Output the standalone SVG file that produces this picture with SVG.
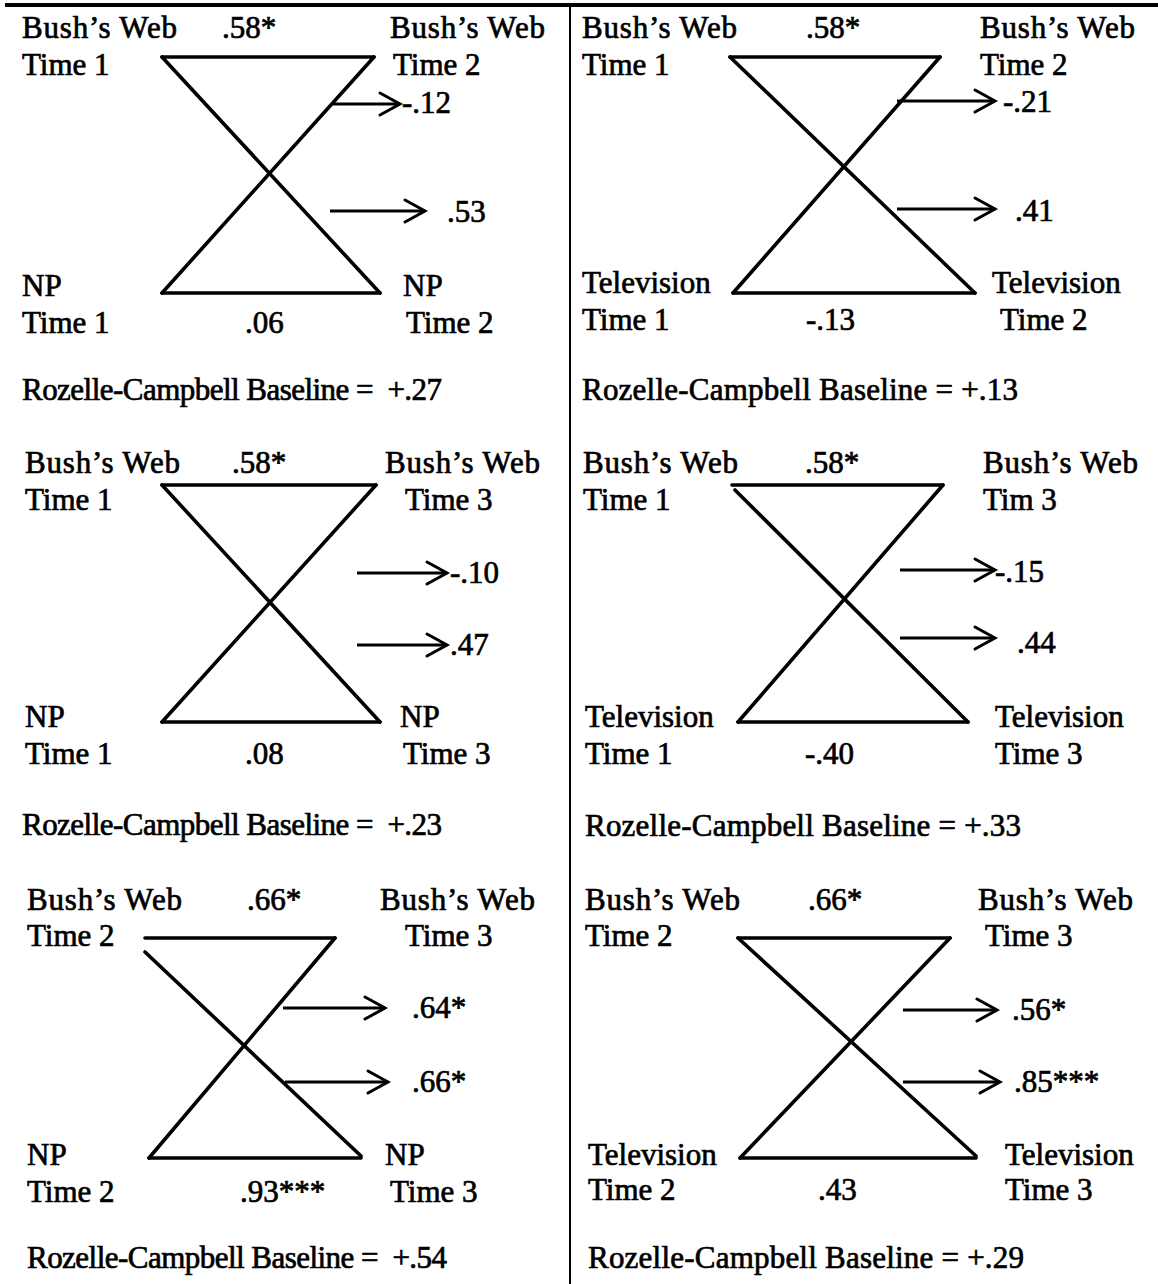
<svg xmlns="http://www.w3.org/2000/svg" width="1158" height="1284" viewBox="0 0 1158 1284">
<defs>
<marker id="ah" markerUnits="userSpaceOnUse" markerWidth="26" markerHeight="26" refX="21" refY="12" orient="auto" overflow="visible">
<path d="M1,1 L21,12 L1,23" fill="none" stroke="#000" stroke-width="3" stroke-linecap="round" stroke-linejoin="miter"/>
</marker>
</defs>
<style>
text{font-family:"Liberation Serif","Times New Roman",serif;font-size:31px;fill:#000;stroke:#000;stroke-width:0.7}
.ln{stroke:#000;stroke-width:3.6;fill:none;stroke-linecap:round}
.ar{stroke:#000;stroke-width:3;fill:none;marker-end:url(#ah)}
.frame{stroke:#000;fill:none}
</style>
<rect width="1158" height="1284" fill="#fff"/>
<g id="frame">
<line class="frame" x1="5" y1="5" x2="1158" y2="5" stroke-width="4"/>
<line class="frame" x1="570" y1="5" x2="570" y2="1284" stroke-width="2"/>
</g>

<g id="panel-tl">
<g id="tl-bw1"><text x="22" y="38" textLength="155">Bush’s Web</text><text x="22" y="75">Time 1</text></g>
<g id="tl-bw2"><text x="390" y="38" textLength="155">Bush’s Web</text><text x="393" y="75">Time 2</text></g>
<g id="tl-np1"><text x="22" y="296">NP</text><text x="22" y="333">Time 1</text></g>
<g id="tl-np2"><text x="403" y="296">NP</text><text x="406" y="333">Time 2</text></g>
<g id="tl-connectors">
<line class="ln" x1="162" y1="57" x2="374" y2="57"/>
<line class="ln" x1="162" y1="57" x2="380" y2="293"/>
<line class="ln" x1="374" y1="57" x2="162" y2="293"/>
<line class="ln" x1="162" y1="293" x2="380" y2="293"/>
<line class="ar" x1="333" y1="104" x2="400" y2="104"/>
<line class="ar" x1="330" y1="211" x2="425" y2="211"/>
</g>
<text x="222" y="38">.58*</text>
<text x="402" y="113">-.12</text>
<text x="447" y="222">.53</text>
<text x="245" y="333">.06</text>
<text x="22" y="400" xml:space="preserve" textLength="420">Rozelle-Campbell Baseline =  +.27</text>
</g>

<g id="panel-tr">
<g id="tr-bw1"><text x="582" y="38" textLength="155">Bush’s Web</text><text x="582" y="75">Time 1</text></g>
<g id="tr-bw2"><text x="980" y="38" textLength="155">Bush’s Web</text><text x="980" y="75">Time 2</text></g>
<g id="tr-tv1"><text x="582" y="293">Television</text><text x="582" y="330">Time 1</text></g>
<g id="tr-tv2"><text x="992" y="293">Television</text><text x="1000" y="330">Time 2</text></g>
<g id="tr-connectors">
<line class="ln" x1="730" y1="57" x2="940" y2="57"/>
<line class="ln" x1="730" y1="57" x2="975" y2="293"/>
<line class="ln" x1="940" y1="57" x2="733" y2="293"/>
<line class="ln" x1="733" y1="293" x2="975" y2="293"/>
<line class="ar" x1="897" y1="101" x2="995" y2="101"/>
<line class="ar" x1="897" y1="209" x2="995" y2="209"/>
</g>
<text x="806" y="38">.58*</text>
<text x="1003" y="112">-.21</text>
<text x="1015" y="221">.41</text>
<text x="806" y="330">-.13</text>
<text x="582" y="400" textLength="436">Rozelle-Campbell Baseline = +.13</text>
</g>

<g id="panel-ml">
<g id="ml-bw1"><text x="25" y="473" textLength="155">Bush’s Web</text><text x="25" y="510">Time 1</text></g>
<g id="ml-bw3"><text x="385" y="473" textLength="155">Bush’s Web</text><text x="405" y="510">Time 3</text></g>
<g id="ml-np1"><text x="25" y="727">NP</text><text x="25" y="764">Time 1</text></g>
<g id="ml-np3"><text x="400" y="727">NP</text><text x="403" y="764">Time 3</text></g>
<g id="ml-connectors">
<line class="ln" x1="162" y1="485" x2="376" y2="485"/>
<line class="ln" x1="162" y1="485" x2="380" y2="722"/>
<line class="ln" x1="376" y1="485" x2="162" y2="722"/>
<line class="ln" x1="162" y1="722" x2="380" y2="722"/>
<line class="ar" x1="357" y1="573" x2="447" y2="573"/>
<line class="ar" x1="357" y1="645" x2="447" y2="645"/>
</g>
<text x="232" y="473">.58*</text>
<text x="450" y="583">-.10</text>
<text x="450" y="655">.47</text>
<text x="245" y="764">.08</text>
<text x="22" y="835" xml:space="preserve" textLength="420">Rozelle-Campbell Baseline =  +.23</text>
</g>

<g id="panel-mr">
<g id="mr-bw1"><text x="583" y="473" textLength="155">Bush’s Web</text><text x="583" y="510">Time 1</text></g>
<g id="mr-bw3"><text x="983" y="473" textLength="155">Bush’s Web</text><text x="983" y="510">Tim 3</text></g>
<g id="mr-tv1"><text x="585" y="727">Television</text><text x="585" y="764">Time 1</text></g>
<g id="mr-tv3"><text x="995" y="727">Television</text><text x="995" y="764">Time 3</text></g>
<g id="mr-connectors">
<line class="ln" x1="732" y1="485" x2="943" y2="485"/>
<line class="ln" x1="735" y1="490" x2="968" y2="722"/>
<line class="ln" x1="943" y1="485" x2="738" y2="722"/>
<line class="ln" x1="738" y1="722" x2="968" y2="722"/>
<line class="ar" x1="900" y1="570" x2="995" y2="570"/>
<line class="ar" x1="900" y1="638" x2="995" y2="638"/>
</g>
<text x="805" y="473">.58*</text>
<text x="995" y="582">-.15</text>
<text x="1017" y="653">.44</text>
<text x="805" y="764">-.40</text>
<text x="585" y="836" textLength="436">Rozelle-Campbell Baseline = +.33</text>
</g>

<g id="panel-bl">
<g id="bl-bw2"><text x="27" y="910" textLength="155">Bush’s Web</text><text x="27" y="946">Time 2</text></g>
<g id="bl-bw3"><text x="380" y="910" textLength="155">Bush’s Web</text><text x="405" y="946">Time 3</text></g>
<g id="bl-np2"><text x="27" y="1165">NP</text><text x="27" y="1202">Time 2</text></g>
<g id="bl-np3"><text x="385" y="1165">NP</text><text x="390" y="1202">Time 3</text></g>
<g id="bl-connectors">
<line class="ln" x1="145" y1="938" x2="335" y2="938"/>
<line class="ln" x1="145" y1="952" x2="361" y2="1156"/>
<line class="ln" x1="335" y1="938" x2="149" y2="1158"/>
<line class="ln" x1="149" y1="1158" x2="361" y2="1158"/>
<line class="ar" x1="283" y1="1008" x2="385" y2="1008"/>
<line class="ar" x1="285" y1="1082" x2="388" y2="1082"/>
</g>
<text x="247" y="910">.66*</text>
<text x="412" y="1018">.64*</text>
<text x="412" y="1092">.66*</text>
<text x="240" y="1202">.93***</text>
<text x="27" y="1268" xml:space="preserve" textLength="420">Rozelle-Campbell Baseline =  +.54</text>
</g>

<g id="panel-br">
<g id="br-bw2"><text x="585" y="910" textLength="155">Bush’s Web</text><text x="585" y="946">Time 2</text></g>
<g id="br-bw3"><text x="978" y="910" textLength="155">Bush’s Web</text><text x="985" y="946">Time 3</text></g>
<g id="br-tv2"><text x="588" y="1165">Television</text><text x="588" y="1200">Time 2</text></g>
<g id="br-tv3"><text x="1005" y="1165">Television</text><text x="1005" y="1200">Time 3</text></g>
<g id="br-connectors">
<line class="ln" x1="738" y1="938" x2="950" y2="938"/>
<line class="ln" x1="738" y1="938" x2="976" y2="1156"/>
<line class="ln" x1="950" y1="938" x2="740" y2="1158"/>
<line class="ln" x1="740" y1="1158" x2="976" y2="1158"/>
<line class="ar" x1="903" y1="1010" x2="997" y2="1010"/>
<line class="ar" x1="903" y1="1082" x2="1000" y2="1082"/>
</g>
<text x="808" y="910">.66*</text>
<text x="1012" y="1020">.56*</text>
<text x="1014" y="1092">.85***</text>
<text x="818" y="1200">.43</text>
<text x="588" y="1268" textLength="436">Rozelle-Campbell Baseline = +.29</text>
</g>
</svg>
